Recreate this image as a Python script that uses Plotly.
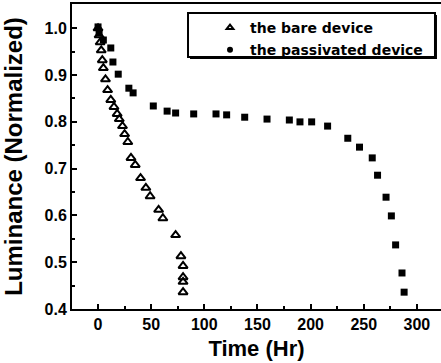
import plotly.graph_objects as go

bare_x = [0, 1, 2, 3, 4, 5, 7, 9, 12, 15, 18, 20, 23, 25, 28, 31, 35, 40, 45, 49, 57, 61, 73, 78, 80, 80, 80, 80]
bare_y = [1.0, 0.985, 0.97, 0.953, 0.932, 0.915, 0.891, 0.868, 0.847, 0.832, 0.817, 0.806, 0.791, 0.774, 0.757,
          0.723, 0.708, 0.68, 0.659, 0.641, 0.612, 0.594, 0.558, 0.513, 0.492, 0.468, 0.458, 0.436]

pass_x = [0, 1, 5, 12, 14, 19, 29, 33, 52, 65, 73, 90, 111, 121, 138, 159, 180, 190, 201, 216, 235, 246, 258,
          263, 271, 276, 280, 286, 288]
pass_y = [1.003, 0.99, 0.975, 0.958, 0.928, 0.902, 0.872, 0.862, 0.834, 0.823, 0.819, 0.817, 0.817, 0.815, 0.81,
          0.806, 0.804, 0.8, 0.8, 0.791, 0.765, 0.746, 0.723, 0.686, 0.639, 0.599, 0.537, 0.477, 0.436]

series_names = ["the bare device", "the passivated device"]
x_ticks = [0, 50, 100, 150, 200, 250, 300]
y_ticks = [0.4, 0.5, 0.6, 0.7, 0.8, 0.9, 1.0]

FONT = "Liberation Sans"
LFONT = "DejaVu Sans"

fig = go.Figure()
# data traces
fig.add_trace(go.Scatter(
    x=bare_x, y=bare_y, mode="markers", name=series_names[0], showlegend=False,
    marker=dict(symbol="triangle-up-open", size=8, color="black", line=dict(width=2, color="black")),
))
fig.add_trace(go.Scatter(
    x=pass_x, y=pass_y, mode="markers", name=series_names[1], showlegend=False,
    marker=dict(symbol="square", size=7, color="black"),
))
# legend-only entries with small symbols
fig.add_trace(go.Scatter(
    x=[None], y=[None], mode="markers", name=series_names[0], legendgroup="a",
    marker=dict(symbol="triangle-up-open", size=6, color="black", line=dict(width=2, color="black")),
))
fig.add_trace(go.Scatter(
    x=[None], y=[None], mode="markers", name=series_names[1], legendgroup="b",
    marker=dict(symbol="circle", size=6, color="black"),
))

# legend frame with shadow
bx0, bx1, by0, by1 = 0.3144, 0.9837, 0.8262, 0.9705
fig.add_shape(type="rect", xref="paper", yref="paper",
              x0=bx0 + 0.0054, x1=bx1 + 0.0054, y0=by0 - 0.0066, y1=by1 - 0.0066,
              fillcolor="black", line=dict(width=0), layer="above")
fig.add_shape(type="rect", xref="paper", yref="paper",
              x0=bx0, x1=bx1, y0=by0, y1=by1,
              fillcolor="white", line=dict(width=2, color="black"), layer="above")

fig.update_layout(
    width=441, height=363,
    margin=dict(l=72, r=0, t=4, b=54),
    paper_bgcolor="white", plot_bgcolor="white",
    font=dict(family=FONT, color="black", size=16, weight="bold"),
    showlegend=True,
    legend=dict(
        x=0.374, y=0.974, xanchor="left", yanchor="top",
        borderwidth=0, bgcolor="rgba(0,0,0,0)",
        font=dict(family=LFONT, size=14, color="black", weight="bold"),
        tracegroupgap=1, itemsizing="trace",
    ),
)
fig.update_xaxes(
    range=[-24.5, 322.7], tickvals=x_ticks,
    showline=True, linecolor="black", linewidth=2, mirror=True,
    ticks="inside", ticklen=5, tickwidth=1.5, tickcolor="black",
    minor=dict(ticks="inside", ticklen=3, dtick=25, tick0=0, tickcolor="black"),
    showgrid=False, zeroline=False,
    tickfont=dict(family=FONT, size=16, weight="bold"),
    title=dict(text="Time (Hr)", font=dict(family=FONT, size=22, weight="bold"), standoff=8),
)
fig.update_yaxes(
    range=[0.4, 1.052], tickvals=y_ticks, tickformat=".1f",
    showline=True, linecolor="black", linewidth=2,
    ticks="inside", ticklen=5, tickwidth=1.5, tickcolor="black",
    minor=dict(ticks="inside", ticklen=3, dtick=0.05, tick0=0.4, tickcolor="black"),
    showgrid=False, zeroline=False,
    tickfont=dict(family=FONT, size=16, weight="bold"),
    title=dict(text="Luminance (Normalized)", font=dict(family=FONT, size=24, weight="bold"), standoff=15),
)

fig.write_html("out.html",
               config={"displayModeBar": False},
               post_script="document.body.style.margin='0';document.body.style.overflow='hidden';")
